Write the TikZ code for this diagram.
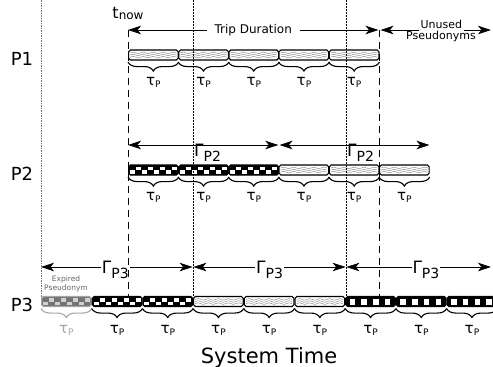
\documentclass[tikz,border=0pt]{standalone}
\usepackage{fontspec}
\setmainfont{DejaVu Sans}
\usetikzlibrary{arrows.meta,calc,decorations.pathmorphing,decorations.pathreplacing}

\newcommand{\fs}[1]{\fontsize{#1}{#1}\selectfont}
\newcommand{\taup}{{\fs{15}τ}\raisebox{-2pt}{\fs{9}P}}
\newcommand{\gam}[1]{{\fs{17}Γ}\raisebox{-5pt}{\fs{14}#1}}

\tikzset{
  arr/.tip={Stealth[length=13pt,width=8.5pt,inset=3.5pt]},
  dimarr/.style={arr-arr, line width=0.75pt},
  sq/.store in=\sqcol, sq=white,
  bar/.style={draw, line width=1.1pt, rounded corners=1.8pt, minimum width=49.6pt,
    minimum height=10pt, inner sep=0pt, anchor=west},
  wavybar/.style={bar, fill=white, path picture={
    \foreach \yy in {2.9,5,7.1}
      \draw[black!50, line width=0.4pt, sharp corners, decorate,
        decoration={snake, amplitude=0.8pt, segment length=10pt}]
        ($(path picture bounding box.north west)+(1.5,\yy)$) --
        ($(path picture bounding box.north east)+(-1.5,\yy)$);}},
  checkbar/.style={bar, fill=black, path picture={
    \foreach \c in {0,...,7}{
      \pgfmathsetmacro\rr{3.5*(1-mod(\c,2))}
      \fill[\sqcol, sharp corners] ($(path picture bounding box.north west)+(1.3+\c*6,1.5+\rr)$)
        rectangle ++(5,3.5);}}},
  stripebar/.style={bar, fill=black, path picture={
    \foreach \c in {0,...,3}
      \fill[white, sharp corners] ($(path picture bounding box.north west)+(4+\c*11.7,2)$)
        rectangle ++(5.5,6);}},
  expbar/.style={checkbar, draw=black!35, fill=black!55, sq=black!18},
  brc/.style={decorate, decoration={brace, mirror, amplitude=9pt, raise=1.5pt},
    line width=1.1pt},
  taulab/.style={anchor=base, inner sep=0pt},
  plab/.style={anchor=base, font=\fs{18}},
  gamlab/.style={anchor=base, inner sep=1pt},
}

\begin{document}
\begin{tikzpicture}[x=1pt, y=-1pt]
\useasboundingbox (0,0) rectangle (493,367);

\node[plab] (lp1) at (22,65) {P1};
\node[plab] (lp2) at (22,180) {P2};
\node[plab] (lp3) at (22,311) {P3};
\node[anchor=base] (tnow) at (128,18) {\fs{16}t\raisebox{-1pt}{\fs{12}now}};
\node[anchor=base, font=\fs{21}] (systime) at (269,363) {System Time};

\foreach \i in {1,...,5}
  \node[wavybar] (p1b\i) at ({128+(\i-1)*50.2},55) {};
\foreach \i in {1,...,3}
  \node[checkbar] (p2b\i) at ({128+(\i-1)*50.2},170) {};
\foreach \i in {4,...,6}
  \node[wavybar] (p2b\i) at ({128+(\i-1)*50.2},170) {};
\node[expbar] (p3b1) at (41,301.5) {};
\foreach \i in {2,3}
  \node[checkbar] (p3b\i) at ({41+(\i-1)*50.7},301.5) {};
\foreach \i in {4,...,6}
  \node[wavybar] (p3b\i) at ({41+(\i-1)*50.7},301.5) {};
\foreach \i in {7,...,9}
  \node[stripebar] (p3b\i) at ({41+(\i-1)*50.7},301.5) {};

\foreach \i in {1,...,5}{
  \draw[brc] (p1b\i.south west) -- (p1b\i.south east);
  \node[taulab] (p1t\i) at ([yshift=-25pt]p1b\i.south) {\taup};
}
\foreach \i in {1,...,6}{
  \draw[brc] (p2b\i.south west) -- (p2b\i.south east);
  \node[taulab] (p2t\i) at ([yshift=-25pt]p2b\i.south) {\taup};
}
\draw[brc, black!35] (p3b1.south west) -- (p3b1.south east);
\node[taulab, text=black!35] (p3t1) at ([yshift=-26pt]p3b1.south) {\taup};
\foreach \i in {2,...,9}{
  \draw[brc] (p3b\i.south west) -- (p3b\i.south east);
  \node[taulab] (p3t\i) at ([yshift=-26pt]p3b\i.south) {\taup};
}
\node[align=center, font=\fontsize{7.5}{9}\selectfont, text=black!60] (expl) at (66,283.5)
  {Expired\\Pseudonym};

\coordinate (now) at (128,30);
\coordinate (trip) at (378.5,30);
\coordinate (unus) at (380.5,30);
\coordinate (rend) at (491,30);
\draw[dimarr] (now) -- node[fill=white, inner xsep=8pt, inner ysep=1pt, font=\fs{12}] (tripl)
  {Trip Duration} (trip);
\draw[dimarr] (unus) -- node[pos=0.55, anchor=base, yshift=2pt, fill=white, inner xsep=2pt,
  inner ysep=2.5pt, font=\fs{11}] (unul) {Unused} (rend);
\node[anchor=base, font=\fs{11}] (pseu) at (441,39.5) {Pseudonyms};

\coordinate (g2a) at (128,145);
\coordinate (g2b) at (278.3,145);
\coordinate (g2c) at (279.5,145);
\coordinate (g2d) at (429.5,145);
\draw[dimarr] (g2a) -- node[gamlab, pos=0.53, yshift=-11pt] (gl2a) {\gam{P2}} (g2b);
\draw[dimarr] (g2c) -- node[gamlab, pos=0.54, yshift=-11pt] (gl2b) {\gam{P2}} (g2d);

\coordinate (g3a) at (41,267);
\coordinate (g3b) at (192.6,267);
\coordinate (g3c) at (193.4,267);
\coordinate (g3d) at (345.6,267);
\coordinate (g3e) at (346.4,267);
\coordinate (g3f) at (491,267);
\draw[dimarr] (g3a) -- node[gamlab, pos=0.49, yshift=-6pt, fill=white] (gl3a) {\gam{P3}} (g3b);
\draw[dimarr] (g3c) -- node[gamlab, pos=0.5, yshift=-6pt, fill=white] (gl3b) {\gam{P3}} (g3d);
\draw[dimarr] (g3e) -- node[gamlab, pos=0.55, yshift=-6pt, fill=white] (gl3c) {\gam{P3}} (g3f);

\draw[black!55, line width=0.6pt, dash pattern=on 1.5pt off 1pt] (41,0) -- (41,297);
\draw[line width=0.5pt, dash pattern=on 2pt off 1pt] (193,0) -- (193,297);
\draw[line width=0.5pt, dash pattern=on 2pt off 1pt] (346,0) -- (346,297);
\draw[line width=0.8pt, dash pattern=on 7pt off 5pt] (now) -- (128,297);
\draw[line width=0.8pt, dash pattern=on 7pt off 5pt] (379,30) -- (379,297);
\end{tikzpicture}
\end{document}
